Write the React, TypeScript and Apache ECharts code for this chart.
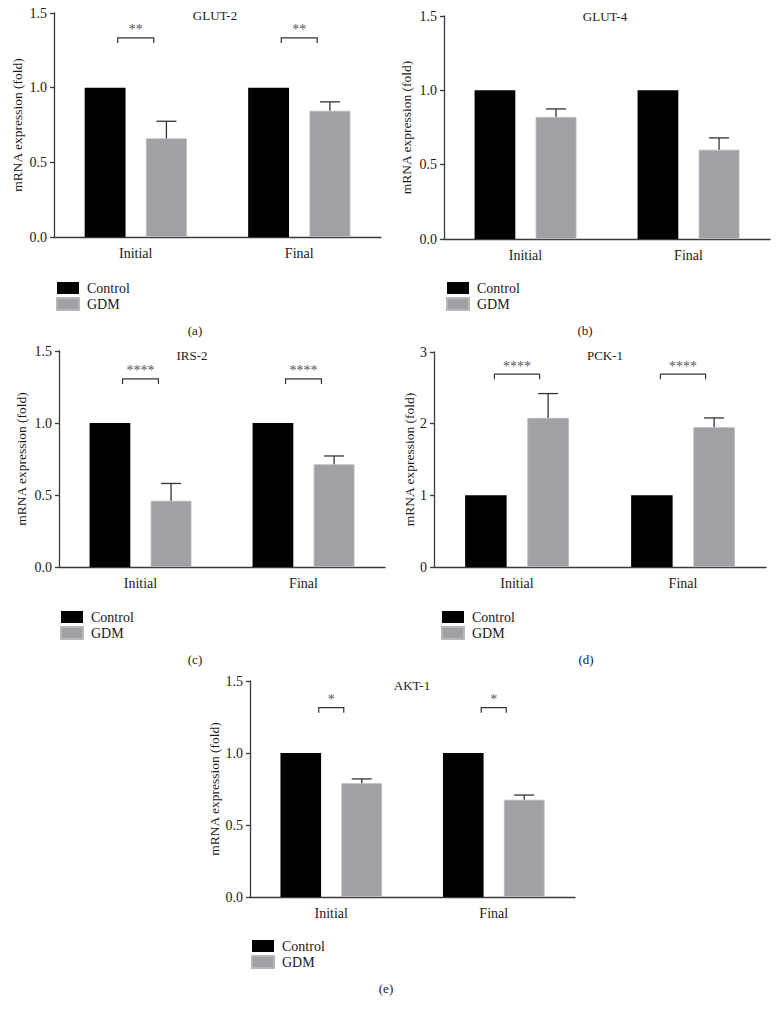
import React, { useEffect, useRef } from "react";
import * as echarts from "echarts";

// ---- data ----
const categories = ["Initial", "Final"];
const seriesNames = ["Control", "GDM"];

const glut2Control = [1, 1];
const glut2GDM = [0.66, 0.845];
const glut2Err = [0.115, 0.06];
const glut2Sig = ["**", "**"];
const glut2SigLevel = [1.333, 1.333];

const glut4Control = [1, 1];
const glut4GDM = [0.82, 0.6];
const glut4Err = [0.055, 0.08];
const glut4Sig: string[] = [];
const glut4SigLevel: number[] = [];

const irs2Control = [1, 1];
const irs2GDM = [0.46, 0.713];
const irs2Err = [0.12, 0.058];
const irs2Sig = ["****", "****"];
const irs2SigLevel = [1.306, 1.306];

const pck1Control = [1, 1];
const pck1GDM = [2.08, 1.95];
const pck1Err = [0.34, 0.13];
const pck1Sig = ["****", "****"];
const pck1SigLevel = [2.69, 2.69];

const akt1Control = [1, 1];
const akt1GDM = [0.79, 0.675];
const akt1Err = [0.03, 0.033];
const akt1Sig = ["*", "*"];
const akt1SigLevel = [1.315, 1.315];

const yTicks15 = { min: 0, max: 1.5, interval: 0.5, decimals: 1 };
const yTicks3 = { min: 0, max: 3, interval: 1, decimals: 0 };

// ---- layout / styles ----
const FONT = "Liberation Serif";
const AXIS_COLOR = "#3a3a3a";
const TEXT_COLOR = "#1a1a1a";
const CONTROL_COLOR = "#000000";
const GDM_COLOR = "#a1a1a5";

const panels = [
  {
    title: "GLUT-2", label: "(a)", control: glut2Control, gdm: glut2GDM, err: glut2Err,
    sig: glut2Sig, sigLevel: glut2SigLevel, ticks: yTicks15,
    grid: { left: 54, top: 13, width: 327, height: 224 }, nameGap: 30, bracketFrac: 0.11,
    titlePos: [215, 15], labelPos: [195, 330], legendPos: [56, 281],
  },
  {
    title: "GLUT-4", label: "(b)", control: glut4Control, gdm: glut4GDM, err: glut4Err,
    sig: glut4Sig, sigLevel: glut4SigLevel, ticks: yTicks15,
    grid: { left: 444, top: 16, width: 326, height: 223 }, nameGap: 31, bracketFrac: 0.11,
    titlePos: [605, 16], labelPos: [585, 330], legendPos: [446, 281],
  },
  {
    title: "IRS-2", label: "(c)", control: irs2Control, gdm: irs2GDM, err: irs2Err,
    sig: irs2Sig, sigLevel: irs2SigLevel, ticks: yTicks15,
    grid: { left: 59, top: 351, width: 326, height: 216 }, nameGap: 31, bracketFrac: 0.11,
    titlePos: [192, 355], labelPos: [195, 659], legendPos: [60, 610],
  },
  {
    title: "PCK-1", label: "(d)", control: pck1Control, gdm: pck1GDM, err: pck1Err,
    sig: pck1Sig, sigLevel: pck1SigLevel, ticks: yTicks3,
    grid: { left: 434, top: 352, width: 332, height: 215 }, nameGap: 17, bracketFrac: 0.136,
    titlePos: [605, 355], labelPos: [586, 659], legendPos: [441, 610],
  },
  {
    title: "AKT-1", label: "(e)", control: akt1Control, gdm: akt1GDM, err: akt1Err,
    sig: akt1Sig, sigLevel: akt1SigLevel, ticks: yTicks15,
    grid: { left: 250, top: 681, width: 325, height: 216 }, nameGap: 29, bracketFrac: 0.077,
    titlePos: [412, 685], labelPos: [386, 988], legendPos: [251, 939],
  },
];

const BAR_FRAC = 0.25; // bar width as fraction of band
const GAP_FRAC = 0.125; // gap between bars as fraction of band
const GDM_OFFSET = BAR_FRAC / 2 + GAP_FRAC / 2; // offset of GDM bar center from category center

function buildOption() {
  const grid: any[] = [];
  const xAxis: any[] = [];
  const yAxis: any[] = [];
  const series: any[] = [];
  const legend: any[] = [];
  const graphic: any[] = [];

  panels.forEach((p, i) => {
    grid.push({ ...p.grid, containLabel: false });
    xAxis.push({
      type: "category",
      gridIndex: i,
      data: categories,
      boundaryGap: true,
      axisLine: { lineStyle: { color: AXIS_COLOR, width: 1.3 } },
      axisTick: { alignWithLabel: true, length: 5, lineStyle: { color: AXIS_COLOR, width: 1.3 } },
      axisLabel: { fontFamily: FONT, fontSize: 14, color: TEXT_COLOR, margin: 9 },
      splitLine: { show: false },
    });
    yAxis.push({
      type: "value",
      gridIndex: i,
      min: p.ticks.min,
      max: p.ticks.max,
      interval: p.ticks.interval,
      name: "mRNA expression (fold)",
      nameLocation: "middle",
      nameGap: p.nameGap,
      nameTextStyle: { fontFamily: FONT, fontSize: 13.5, color: TEXT_COLOR },
      axisLine: { show: true, lineStyle: { color: AXIS_COLOR, width: 1.3 } },
      axisTick: { show: true, length: 4, lineStyle: { color: AXIS_COLOR, width: 1.3 } },
      axisLabel: {
        fontFamily: FONT, fontSize: 14, color: TEXT_COLOR, margin: 7,
        formatter: (v: number) => v.toFixed(p.ticks.decimals),
      },
      splitLine: { show: false },
    });
    series.push({
      type: "bar", name: seriesNames[0], xAxisIndex: i, yAxisIndex: i,
      data: p.control, barWidth: "25%", barGap: "50%",
      itemStyle: { color: CONTROL_COLOR },
    });
    series.push({
      type: "bar", name: seriesNames[1], xAxisIndex: i, yAxisIndex: i,
      data: p.gdm, barWidth: "25%", barGap: "50%",
      itemStyle: { color: GDM_COLOR, borderColor: "#b8b8bb", borderWidth: 0.8 },
    });
    // error bars (upper only)
    series.push({
      type: "custom", name: "err" + i, xAxisIndex: i, yAxisIndex: i, z: 5,
      data: p.gdm.map((m, k) => [k, m, p.err[k]]),
      renderItem: (params: any, api: any) => {
        const idx = api.value(0);
        const band = api.size([1, 0])[0];
        const x = api.coord([idx, 0])[0] + band * GDM_OFFSET;
        const yMean = api.coord([idx, api.value(1)])[1];
        const yTop = api.coord([idx, api.value(1) + api.value(2)])[1];
        const st = { stroke: "#333", lineWidth: 1.3 };
        return {
          type: "group",
          children: [
            { type: "line", shape: { x1: x, y1: yMean, x2: x, y2: yTop }, style: st },
            { type: "line", shape: { x1: x - 10, y1: yTop, x2: x + 10, y2: yTop }, style: st },
          ],
        };
      },
    });
    if (p.sig.length) {
      series.push({
        type: "custom", name: "sig" + i, xAxisIndex: i, yAxisIndex: i, z: 5,
        data: p.sigLevel.map((lv, k) => [k, lv]),
        renderItem: (params: any, api: any) => {
          const idx = api.value(0);
          const band = api.size([1, 0])[0];
          const cx = api.coord([idx, 0])[0];
          const y = api.coord([idx, api.value(1)])[1];
          const hw = band * p.bracketFrac;
          return {
            type: "group",
            children: [
              {
                type: "polyline",
                shape: { points: [[cx - hw, y + 5], [cx - hw, y], [cx + hw, y], [cx + hw, y + 5]] },
                style: { stroke: "#333", lineWidth: 1.2, fill: "none" },
              },
              {
                type: "text",
                x: cx, y: y - 1,
                style: {
                  text: p.sig[params.dataIndex], textAlign: "center", textVerticalAlign: "bottom",
                  fontFamily: FONT, fontSize: 14, fill: "#555555",
                },
              },
            ],
          };
        },
      });
    }
    legend.push({
      data: seriesNames,
      orient: "vertical",
      left: p.legendPos[0],
      top: p.legendPos[1],
      icon: "rect",
      itemWidth: 22,
      itemHeight: 12,
      itemGap: 2,
      padding: 0,
      selectedMode: false,
      textStyle: { fontFamily: FONT, fontSize: 14, color: TEXT_COLOR, lineHeight: 14, padding: [0, 0, 0, 3] },
    });
    graphic.push({
      type: "text", x: p.titlePos[0], y: p.titlePos[1],
      style: { text: p.title, textAlign: "center", textVerticalAlign: "middle", fontFamily: FONT, fontSize: 13, fill: TEXT_COLOR },
    });
    graphic.push({
      type: "text", x: p.labelPos[0], y: p.labelPos[1],
      style: { text: p.label, textAlign: "center", textVerticalAlign: "middle", fontFamily: FONT, fontSize: 13, fill: TEXT_COLOR },
    });
  });

  return {
    animation: false,
    backgroundColor: "#ffffff",
    textStyle: { fontFamily: FONT },
    grid, xAxis, yAxis, series, legend, graphic,
  };
}

export default function App() {
  const ref = useRef<HTMLDivElement>(null);
  useEffect(() => {
    if (!ref.current) return;
    const chart = echarts.init(ref.current, undefined, { renderer: "svg" });
    chart.setOption(buildOption() as any);
    return () => chart.dispose();
  }, []);
  return (
    <div
      ref={ref}
      style={{ position: "absolute", left: 0, top: 0, width: 778, height: 1014, background: "#fff" }}
    />
  );
}
